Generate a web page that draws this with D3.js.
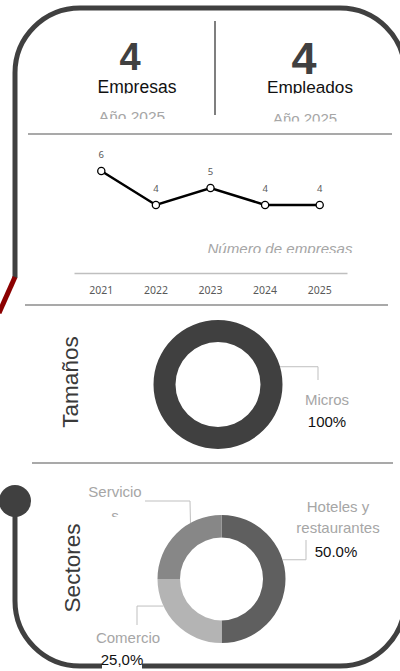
<!DOCTYPE html>
<meta charset="utf-8">
<style>
body { margin: 0; background: #fff; }
text { font-family: "Liberation Sans", Arial, sans-serif; }
.num { font-family: "Noto Sans", sans-serif; fill: #595959; }
.sep { stroke: #8c8c8c; stroke-width: 1.5px; }
.leader { fill: none; stroke: #bfbfbf; stroke-width: 1px; }
</style>
<svg width="400" height="671"></svg>
<script src="https://d3js.org/d3.v7.min.js"></script>
<script>

// ---- data ----
const kpiValues = [4, 4];
const kpiLabels = ["Empresas", "Empleados"];
const kpiYear = "Año 2025";

const years = ["2021", "2022", "2023", "2024", "2025"];
const empresas = [6, 4, 5, 4, 4];
const lineTitle = "Número de empresas";

const tamanos = ["Micros"];
const tamanoValues = [100];
const tamanoPct = ["100%"];

const sectores = ["Hoteles y restaurantes", "Comercio", "Servicios"];
const sectorValues = [50, 25, 25];
const sectorLines = [["Hoteles y", "restaurantes"], ["Comercio"], ["Servicio", "s"]];
const sectorPct = ["50.0%", "25,0%", ""];

const svg = d3.select("svg");
const dark = "#404040";
let clipId = 0;

// text that is cut at the bottom like a too-small text box
function boxText(x, y, str, clipBottom, size, fill, extra) {
  const id = "c" + (clipId++);
  svg.append("clipPath").attr("id", id)
    .append("rect").attr("x", 0).attr("y", 0).attr("width", 400).attr("height", clipBottom);
  const t = svg.append("text")
      .attr("clip-path", "url(#" + id + ")")
      .attr("x", x).attr("y", y)
      .attr("text-anchor", "middle")
      .attr("font-size", size)
      .attr("fill", fill)
      .text(str);
  if (extra) extra(t);
  return t;
}

// ---- frame ----
svg.append("path")
    .attr("d", "M15,278 L15,73 A65,65 0 0 1 80,8 L340,8 A65,65 0 0 1 405,73 L405,601 A65,65 0 0 1 340,666 L80,666 A65,65 0 0 1 15,601 L15,501")
    .attr("fill", "none").attr("stroke", dark).attr("stroke-width", 5);
svg.append("line").attr("x1", 15).attr("y1", 277).attr("x2", -1).attr("y2", 313)
    .attr("stroke", "#8b0000").attr("stroke-width", 5);
svg.append("circle").attr("cx", 15).attr("cy", 501).attr("r", 16).attr("fill", dark);

// ---- KPIs ----
const kpiX = [130, 304], kpiSize = [38, 45], kpiBase = [70, 74];
kpiValues.forEach((v, i) => {
  svg.append("text").attr("x", kpiX[i]).attr("y", kpiBase[i])
      .attr("text-anchor", "middle").attr("font-weight", "bold")
      .attr("font-size", kpiSize[i]).attr("fill", dark).text(v);
});
boxText(137, 93, kpiLabels[0], 93.5, 17.5, "#111");
boxText(310, 93, kpiLabels[1], 93.5, 17.2, "#111");
boxText(132, 122, kpiYear, 119, 15.5, "#a6a6a6");
boxText(305, 123.5, kpiYear, 121.5, 15, "#a6a6a6");
svg.append("line").attr("x1", 215).attr("y1", 21).attr("x2", 215).attr("y2", 115)
    .attr("stroke", "#555").attr("stroke-width", 1.5);
svg.append("line").attr("class", "sep").attr("x1", 28).attr("x2", 392).attr("y1", 134).attr("y2", 134);

// ---- line chart ----
const x = d3.scaleBand().domain(years).range([74, 347]);
const y = d3.scaleLinear().domain([0, 6]).range([273, 171]);

const xAxis = svg.append("g")
    .attr("transform", "translate(0,273)")
    .call(d3.axisBottom(x).tickSize(0).tickPadding(14));
xAxis.select(".domain").attr("stroke", "#bfbfbf").attr("stroke-width", 1.5);
xAxis.selectAll("text").attr("class", "num").attr("font-size", 10.5);

const line = d3.line()
    .x((d, i) => x(years[i]) + x.bandwidth() / 2)
    .y(d => y(d));

svg.append("path").datum(empresas)
    .attr("d", line).attr("fill", "none")
    .attr("stroke", "#000").attr("stroke-width", 2.5);

svg.selectAll(".pt").data(empresas).join("circle")
    .attr("class", "pt")
    .attr("cx", (d, i) => x(years[i]) + x.bandwidth() / 2)
    .attr("cy", d => y(d))
    .attr("r", 3.6)
    .attr("fill", "#fff").attr("stroke", "#000").attr("stroke-width", 1.3);

svg.selectAll(".lbl").data(empresas).join("text")
    .attr("class", "lbl num")
    .attr("x", (d, i) => x(years[i]) + x.bandwidth() / 2)
    .attr("y", d => y(d) - 13)
    .attr("text-anchor", "middle")
    .attr("font-size", 9.5)
    .style("font-family", "'Noto Sans', sans-serif")
    .text(d => d);

boxText(280, 254, lineTitle, 253, 15.1, "#a6a6a6", t => t.attr("font-style", "italic"));
svg.append("line").attr("class", "sep").attr("x1", 25).attr("x2", 388).attr("y1", 305).attr("y2", 305);

// ---- donuts ----
function vtitle(cx, cy, str) {
  svg.append("text")
      .attr("transform", "translate(" + cx + "," + cy + ") rotate(-90)")
      .attr("text-anchor", "middle").attr("dy", "0.35em")
      .attr("font-size", 22.5).attr("fill", "#3a3a3a")
      .text(str);
}

const pie = d3.pie().sort(null).value(d => d);

// Tamaños
vtitle(70, 382, "Tamaños");
const t1 = { cx: 218, cy: 384.5, r: 64.5, ir: 42.5 };
const arc1 = d3.arc().innerRadius(t1.ir).outerRadius(t1.r);
svg.append("g").attr("transform", "translate(" + t1.cx + "," + t1.cy + ")")
  .selectAll("path").data(pie(tamanoValues)).join("path")
    .attr("d", arc1).attr("fill", dark);

function edge(c, ang) {
  return [c.cx + c.r * Math.sin(ang), c.cy - c.r * Math.cos(ang)];
}
const pMicros = edge(t1, 74 * Math.PI / 180);
svg.append("path").attr("class", "leader")
    .attr("d", d3.line()([pMicros, [318, pMicros[1]], [318, 380]]));
svg.append("text").attr("x", 327).attr("y", 405).attr("text-anchor", "middle")
    .attr("font-size", 15).attr("fill", "#a6a6a6").text(tamanos[0]);
svg.append("text").attr("x", 327).attr("y", 427).attr("text-anchor", "middle")
    .attr("font-size", 15).attr("fill", "#111").text(tamanoPct[0]);
svg.append("line").attr("class", "sep").attr("x1", 32).attr("x2", 393).attr("y1", 463).attr("y2", 463);

// Sectores
vtitle(72, 568, "Sectores");
const t2 = { cx: 221.5, cy: 579, r: 64, ir: 41.5 };
const arc2 = d3.arc().innerRadius(t2.ir).outerRadius(t2.r);
const sectorColor = d3.scaleOrdinal().domain(sectores).range(["#5f5f5f", "#b4b4b4", "#878787"]);
svg.append("g").attr("transform", "translate(" + t2.cx + "," + t2.cy + ")")
  .selectAll("path").data(pie(sectorValues)).join("path")
    .attr("d", arc2)
    .attr("fill", (d, i) => sectorColor(sectores[i]));

// label layout: leader angle (deg), elbow points, text lines
const sectorLayout = [
  { ang: 72.5, elbow: (p) => [p, [306, p[1]], [306, 540]], tx: 338, ty: [512, 533], px: 336, py: 557, clip: [null, null], pclip: 557, bg: false },
  { ang: 245, elbow: (p) => [p, [137, p[1]], [137, 625]], tx: 128, ty: [643], px: 122, py: 665, clip: [null], pclip: null, bg: true },
  { ang: 331, elbow: (p) => [p, [190, 501], [145, 501]], tx: 115, ty: [497, 521], px: 115, py: 540, clip: [null, 517], pclip: null, bg: false }
];
sectorLayout.forEach((L, i) => {
  const p = edge(t2, L.ang * Math.PI / 180);
  svg.append("path").attr("class", "leader").attr("d", d3.line()(L.elbow(p)));
  sectorLines[i].forEach((s, j) => {
    if (L.clip[j]) boxText(L.tx, L.ty[j], s, L.clip[j], 15, "#a6a6a6");
    else svg.append("text").attr("x", L.tx).attr("y", L.ty[j]).attr("text-anchor", "middle")
        .attr("font-size", 15).attr("fill", "#a6a6a6").text(s);
  });
  if (sectorPct[i]) {
    // white text box behind the label hides the frame line
    if (L.bg) svg.append("rect").attr("x", L.px - 20).attr("y", L.py - 13)
        .attr("width", 40).attr("height", 19).attr("fill", "#fff");
    if (L.pclip) boxText(L.px, L.py, sectorPct[i], L.pclip, 15, "#111");
    else svg.append("text").attr("x", L.px).attr("y", L.py).attr("text-anchor", "middle")
        .attr("font-size", 15).attr("fill", "#111").text(sectorPct[i]);
  }
});

</script>
